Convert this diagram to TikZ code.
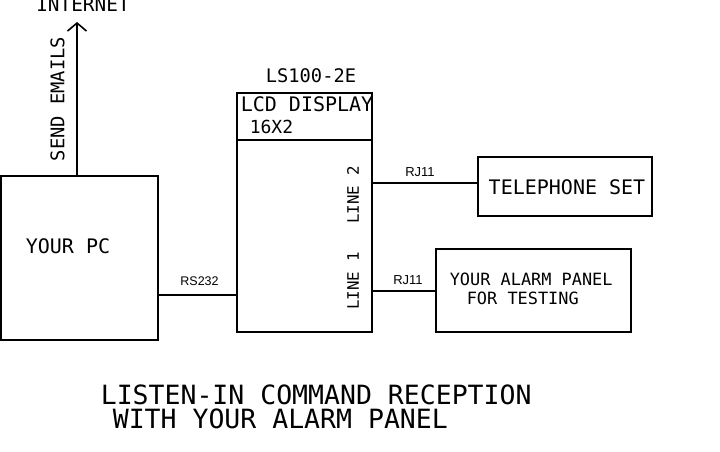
\documentclass[tikz,border=0pt]{standalone}
\usepackage{fontspec}
\setmonofont{DejaVu Sans Mono}
\newfontfamily\portfont{Liberation Sans}
\usetikzlibrary{arrows.meta}

\begin{document}
\begin{tikzpicture}[x=1pt, y=-1pt, line width=1.6pt,
    box/.style={draw, rectangle, inner sep=0pt},
    txt/.style={inner sep=0pt, font=\ttfamily\fontsize{#1}{#1}\selectfont},
    txt/.default=20,
    port/.style={inner sep=0pt, font=\portfont\fontsize{#1}{#1}\selectfont},
    port/.default=13]
    \useasboundingbox (0,0) rectangle (720,452);

    % the four boxes
    \node[box, minimum width=157pt, minimum height=164pt] (pc) at (79.5,258) {};
    \node[box, minimum width=135pt, minimum height=239pt] (ls) at (304.5,212.5) {};
    \node[box, minimum width=174pt, minimum height=59pt] (tel) at (565,186.5) {};
    \node[box, minimum width=195pt, minimum height=83pt] (alarm) at (533.5,290.5) {};

    % display header of the LS100
    \coordinate (lcd) at (ls.west |- 0,140);
    \draw (lcd) -- (lcd -| ls.east);

    % links
    \coordinate (net) at (77,22);
    \draw[-{Straight Barb[length=8pt,width=19pt]}] (net |- pc.north) -- (net);
    \coordinate (line2) at (ls.east |- 0,183);
    \draw (line2) -- (line2 -| tel.west);
    \coordinate (line1) at (ls.east |- 0,291);
    \draw (line1) -- (line1 -| alarm.west);
    \coordinate (serial) at (pc.east |- 0,295);
    \draw (serial) -- (serial -| ls.west);

    % texts
    \node[txt=19.4, anchor=base] (internet) at (83,12) {INTERNET};
    \node[txt=18.8, rotate=90] (emails) at (57.5,99) {SEND EMAILS};
    \node[txt, anchor=west] (pctext) at (25,246) {YOUR PC};
    \node[port=12.5] (rs) at (199.5,281) {RS232};
    \node[txt=18.7] (model) at (311,76) {LS100-2E};
    \node[txt, anchor=west] (lcdtext) at (240,104.5) {LCD DISPLAY};
    \node[txt=18, anchor=west] (size) at (249,127) {16X2};
    \node[txt=15.8, rotate=90] (l2text) at (353,195) {LINE 2};
    \node[txt=15.8, rotate=90] (l1text) at (353,281) {LINE 1};
    \node[port] (rja) at (420,172) {RJ11};
    \node[port] (rjb) at (408,280) {RJ11};
    \node[txt] (teltext) at (567,187) {TELEPHONE SET};
    \node[txt=16.9, anchor=west] (alarmtext) at (449,279) {YOUR ALARM PANEL};
    \node[txt=16.9, anchor=west] (testtext) at (466,298) {FOR TESTING};

    % caption
    \node[inner sep=0pt, anchor=north west, align=left,
      font=\ttfamily\fontsize{26.5}{24}\selectfont] (title) at (100,384)
      {LISTEN-IN COMMAND RECEPTION\\\hspace*{12pt}WITH YOUR ALARM PANEL};
\end{tikzpicture}
\end{document}
